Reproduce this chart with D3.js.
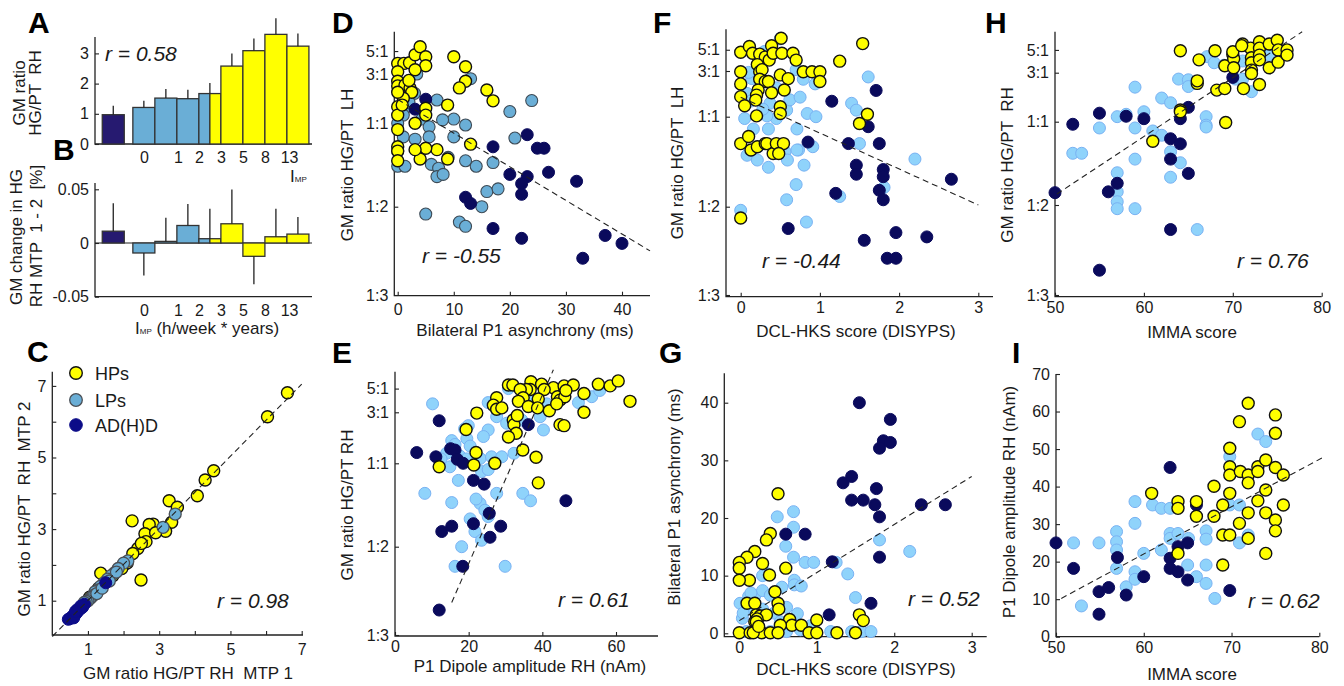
<!DOCTYPE html>
<html><head><meta charset="utf-8">
<script src="https://cdn.jsdelivr.net/npm/d3@7/dist/d3.min.js"></script>
<style>
body{margin:0;background:#fff;}
text{font-family:"Liberation Sans",Arial,Helvetica,sans-serif;fill:#1a1a1a;white-space:pre;}
</style></head><body>
<svg id="fig" width="1344" height="686"></svg>
<script>
// ================= DATA =================
const groupNames = ["HPs", "LPs", "AD(H)D"];

// Panels A & B : bins of I_MP
const binNames = ["AD(H)D", "0", "0-1", "1-2", "2-3", "3-5", "5-8", "8-13", ">13"];
const binPos = [-0.39, 1, 2, 3, 4, 5, 6, 7, 8];
const binGroup = ["AD", "LP", "LP", "LP", "LP/HP", "HP", "HP", "HP", "HP"];
const gmRatioRH = [0.97, 1.21, 1.52, 1.50, 1.67, 2.58, 3.09, 3.63, 3.24];
const gmRatioErr = [0.30, 0.22, 0.30, 0.30, 0.35, 0.42, 0.40, 0.53, 0.42];
const gmChange = [0.011, -0.0093, 0.0015, 0.0163, 0.004, 0.0179, -0.0124, 0.0058, 0.0083];
const gmChangeErr = [0.026, 0.021, 0.022, 0.020, 0.028, 0.032, 0.026, 0.026, 0.016];
const binTickLabels = ["0", "1", "2", "3", "5", "8", "13"];
const binTickPos = [1, 2.55, 3.5, 4.5, 5.5, 6.5, 7.6];

// Ratio axis ticks
const ratioTickVals = [1/3, 1/2, 1, 3, 5];
const ratioTickLabels = ["1:3", "1:2", "1:1", "3:1", "5:1"];

// Panel C : GM ratio RH, MTP1 vs MTP2
const cHP = [[6.6,6.81],[6.04,6.14],[4.53,4.63],[4.29,4.37],[4.07,3.93],[3.28,3.79],[3.51,3.61],[3.35,3.19],[3.18,2.94],[2.24,3.23],[2.83,3.14],[2.72,3.13],[2.6,2.87],[2.63,2.65],[2.4,2.46],[2.26,2.32],[2.49,1.58],[1.36,1.77],[2.0,2.0],[2.5,2.6],[2.1,2.05],[1.95,1.9],[2.9,2.9],[1.7,1.7],[1.3,1.35],[1.2,1.2],[1.05,1.1]];
const cLP = [[3.11,3.05],[3.45,3.42],[2.12,2.11],[2.0,2.05],[1.85,1.9],[1.75,1.78],[1.65,1.7],[1.55,1.6],[1.45,1.5],[1.35,1.4],[1.3,1.3],[1.2,1.25],[1.15,1.15],[1.1,1.1],[1.05,1.05],[1.0,1.0],[0.95,0.98],[1.25,1.2],[1.4,1.35],[1.6,1.55],[1.8,1.8],[0.9,0.95]];
const cAD = [[1.5,1.5],[0.9,0.9],[0.85,0.82],[0.8,0.78],[0.75,0.75],[0.7,0.68],[0.65,0.62],[0.6,0.6],[0.55,0.55],[0.5,0.5],[0.45,0.48],[0.6,0.52],[0.7,0.75],[0.8,0.85],[0.65,0.7]];
const cLine = [[0,0],[7,7.05]];

// Panel D : P1 asynchrony (ms) vs GM ratio LH
const dHP = [[0,3.8],[1.1,3.8],[2.1,3.85],[3.1,4.6],[4,5.5],[5,4.4],[5,3.6],[3.1,3.3],[0,3.15],[0,2.55],[0,2.3],[1.3,2.35],[2.2,2.2],[2.5,2.0],[1,1.75],[0,2.0],[0,1.45],[0,1.2],[0,0.93],[3.1,1.0],[5,1.4],[5,1.2],[8.9,1.5],[10,4.4],[12.1,3.53],[12.1,2.55],[11,2.2],[15.9,2.1],[17,1.65],[13,0.8],[8.9,0.7],[7,0.76],[5,0.77],[4,0.7],[3.1,0.76],[0,0.78],[0,0.75],[0,0.69],[2,2.6],[0.8,1.5]];
const dLP = [[23.9,1.66],[20,1.3],[20.9,0.85],[17,0.68],[15.9,0.55],[17.9,0.56],[15,0.5],[11,0.46],[12.1,0.45],[5,0.48],[13,2.7],[12.1,0.98],[10,0.86],[10,1.1],[8,1.08],[7,1.68],[9,0.71],[6,0.67],[7.3,0.65],[7,0.61],[8.1,0.62],[12.1,0.69],[14,0.66],[1,0.86],[3.1,0.84],[0,0.75],[0,0.66],[1.3,0.66],[3.4,3.0],[3,1.95],[1.9,1.46],[4.3,1.1],[5.6,0.96],[5.6,0.86],[1,1.2],[2,1.6],[0,1.0]];
const dAD = [[5,1.71],[3.1,1.37],[23.1,0.88],[17,0.78],[24.9,0.77],[26.1,0.77],[20,0.62],[23.1,0.61],[22.1,0.58],[26.9,0.63],[31.9,0.59],[22.1,0.54],[12.1,0.53],[13,0.51],[17,0.445],[22.1,0.424],[37,0.43],[40,0.414],[33,0.387]];
const dLine = [[0,1.7],[45,0.40]];

// Panel E : P1 dipole amplitude RH (nAm) vs GM ratio RH
const eHP = [[30.8,5.4],[32,5.4],[36.9,5.8],[39.8,5.5],[43,5.1],[45.9,5.3],[48.4,5.4],[55.2,5.5],[58.4,5.3],[60.6,5.9],[63.8,3.8],[51.3,4.5],[51.3,3.0],[40.5,4.9],[36.7,4.9],[35.7,4.9],[34,4.9],[34.8,4.1],[33.5,3.8],[36.2,3.4],[38.9,4.0],[38.7,3.3],[41.9,3.1],[44.1,4.2],[44.8,3.9],[46.1,4.2],[46.4,4.8],[43.9,3.6],[27.6,4.1],[26.7,3.5],[27.6,3.2],[29,3.3],[22.2,2.95],[32.1,2.54],[32.3,2.3],[33.2,2.8],[32.9,1.91],[30.8,1.76],[44.8,2.3],[45.9,2.25],[19.3,2.07],[22,1.26],[34.7,1.33],[38.3,1.14],[12,0.96],[21.4,0.98],[27.1,1.0],[38.9,0.81]];
const eLP = [[10.2,3.6],[8.1,0.735],[15.4,0.68],[15.4,1.63],[16.3,1.5],[18.9,2.1],[19.5,1.7],[19.9,2.25],[17.6,1.17],[20.4,1.45],[14.9,0.96],[17.2,0.83],[23.1,1.11],[23.5,0.91],[25.3,2.05],[25.3,3.7],[27.6,2.73],[26.2,1.15],[25.3,0.93],[29,1.15],[27.6,0.735],[23.1,0.675],[24.4,0.64],[25.3,0.61],[20.4,0.6],[21.7,0.55],[23.5,0.52],[18.1,0.5],[16.3,0.45],[29.9,0.45],[34.7,0.735],[36.8,0.69],[32.3,1.24],[30.3,2.37],[34.4,2.54],[40.3,2.05],[30.8,5.0],[35.7,4.1],[49.8,3.7],[53.4,4.2],[55.6,4.8],[41.2,3.6],[39.4,2.73],[24,1.78],[14,1.24],[19.5,1.1],[12.5,1.1],[22,0.7]];
const eAD = [[12,2.5],[5.9,1.26],[11.1,1.15],[15.1,1.37],[16.3,1.33],[16.9,1.09],[18.5,1.0],[21.3,0.83],[24.2,0.8],[25.6,0.625],[21.3,0.58],[12.7,0.55],[15.4,0.57],[25.8,0.53],[28.7,0.57],[36.2,2.3],[46.4,0.69],[18.4,0.45],[12,0.368]];
const eLine = [[15.4,0.38],[43,7.5]];

// Panel F : DCL-HKS score vs GM ratio LH
const fHP = [[0,4.7],[0.11,5.4],[0.15,4.6],[0.24,4.5],[0.31,4.2],[0.36,3.9],[0.39,5.5],[0.41,4.6],[0.51,6.6],[0.52,4.6],[0.66,4.6],[0.7,3.9],[0.21,3.5],[0,2.95],[0.24,2.95],[0.27,3.1],[0.24,2.46],[0.31,2.33],[0.35,2.33],[0.5,2.73],[0.6,2.5],[0,2.2],[0.22,1.9],[0.2,1.68],[0.19,1.49],[0.39,1.78],[0.55,1.9],[0,1.62],[0.05,1.3],[0.2,1.02],[0.5,1.27],[0.5,1.08],[0.79,2.95],[0.9,2.95],[1,2.95],[1,2.33],[1.25,3.8],[1.54,5.8],[1.6,1.06],[1.5,0.93],[0,0.77],[0.1,0.82],[0.13,0.73],[0.21,0.75],[0.31,0.77],[0.33,0.77],[0.41,0.71],[0.45,0.77],[0.54,0.77],[0.48,0.71],[0,0.47]];
const fLP = [[0,0.49],[0.58,0.52],[0.7,0.57],[0.83,0.46],[0.8,0.65],[0.73,0.73],[0.71,0.88],[0.84,1.08],[0.95,1.0],[0.94,2.2],[0.79,2.46],[0.7,3.1],[0.5,6.5],[0.14,2.5],[0.08,1.75],[0.05,0.98],[0.16,0.88],[0.22,0.75],[0.08,0.7],[0.21,0.675],[0.35,0.64],[0.35,0.88],[0.45,0.98],[0.56,0.72],[0.59,0.675],[0.71,0.73],[0.91,0.75],[1.4,1.38],[1.46,1.17],[1.5,0.77],[1.61,2.6],[1.81,0.56],[2.2,0.68],[1.25,0.53],[0.33,1.02],[0.58,1.17],[0.37,1.38],[0.12,1.45],[0.28,1.2],[0.62,1.5],[0.45,2.0],[0.3,4.8],[0.1,2.9],[0.75,1.6]];
const fAD = [[1.15,1.45],[1.71,1.88],[1.61,0.9],[0.85,0.78],[1.36,0.77],[1.75,0.77],[1.46,0.65],[1.46,0.61],[1.8,0.63],[1.8,0.6],[1.75,0.55],[1.8,0.52],[1.2,0.54],[2.66,0.59],[0.6,0.445],[1.96,0.436],[1.56,0.42],[2.35,0.427],[1.85,0.387],[1.96,0.387]];
const fLine = [[0,1.6],[3,0.505]];

// Panel G : DCL-HKS score vs bilateral P1 asynchrony (ms)
const gHP = [[0.5,24.2],[0.4,17.3],[0.35,16.2],[0.2,14.2],[0.1,13.2],[0,12.3],[0,11.3],[0.3,12.1],[0.39,10.1],[0.6,11.3],[0.13,9.2],[0,9.2],[0.46,7.2],[0.1,5.2],[0.2,5.2],[0.5,5.2],[0.51,4.2],[0.22,3.2],[0.2,2.0],[0.27,3.0],[0.35,3.2],[0.23,2.5],[0.65,2.4],[0.68,1.4],[0.8,1.4],[1,2.3],[0.53,1.4],[1.55,3.2],[1.6,2.2],[0,0.1],[0.14,0.1],[0.29,0.1],[0.4,0.1],[0.5,0.1],[0.9,0.1],[1,0.1],[1.26,0.1],[1.5,0.1],[0.18,0.1],[0.22,2.0],[0.25,1.2]];
const gLP = [[0.49,20.2],[0.7,21.1],[0.7,18.4],[0.6,15.1],[0.7,13.2],[0.85,12.3],[0.96,12.3],[1.25,12.3],[1.4,10.3],[0.71,9.2],[0.71,8.4],[0.8,8.2],[1.81,16.2],[2.2,14.2],[1.5,6.2],[0.35,10.4],[0.01,5.2],[0.12,6.4],[0.2,6.5],[0.3,7.4],[0.4,6.6],[0.16,4.2],[0.3,4.2],[0.45,3.5],[0.61,4.5],[0.75,3.4],[0.04,2.6],[0.23,2.0],[0.53,2.0],[0.09,0.3],[0.23,0.3],[0.4,0.3],[0.61,0.3],[0.79,0.6],[0.92,1.3],[1.18,0.3],[1.45,0.3],[1.58,0.3],[1.7,0.3],[0.3,10.0],[0.15,7.0],[0.55,8.0],[0.05,3.5]];
const gAD = [[1.55,40],[1.95,37.1],[1.86,33.4],[1.81,32.1],[1.95,33.1],[1.34,26.1],[1.45,27.2],[1.45,23.1],[1.6,23.1],[1.77,25.1],[1.75,22.3],[1.81,20.2],[2.35,22.3],[2.66,22.3],[0.6,17.2],[0.85,17.2],[1.2,12.4],[1.81,13.2],[1.7,5.2],[1.16,3.2]];
const gLine = [[0,2.2],[3,27.2]];

// Panel H : IMMA score vs GM ratio RH
const hHP = [[64.1,4.9],[66.2,4.0],[68,4.9],[66,2.36],[68.2,2.03],[69.1,2.1],[69.1,3.5],[70,4.5],[70.1,4.1],[70.1,3.35],[71.1,5.7],[71.2,2.1],[72,5.2],[72.1,4.2],[72.1,3.75],[72.1,3.18],[72.1,2.95],[73,6.0],[73,5.2],[73,4.45],[73,4.0],[73,2.3],[74.1,5.7],[74.1,3.35],[75,6.2],[75.1,5.0],[75.1,3.8],[76.1,5.0],[76.1,4.45],[64.1,1.3],[64.1,1.25],[69.2,0.99],[61,0.81],[70,4.8],[71,5.5],[66,2.5]];
const hLP = [[59,2.17],[60,1.25],[58,1.18],[57,1.12],[55,0.93],[59,0.93],[61,0.9],[62,1.7],[63,1.53],[62,0.86],[63.9,2.6],[65,2.56],[65,2.2],[67,1.12],[67,0.96],[67,0.94],[67.1,4.3],[67.9,3.75],[69,3.55],[70.3,2.6],[71.1,3.9],[71.1,2.6],[72.1,1.96],[74.1,4.45],[52,0.725],[53,0.725],[57,0.62],[57,0.543],[57,0.51],[57,0.49],[59,0.69],[59,0.49],[63,0.735],[63,0.6],[64.1,0.67],[66,0.44]];
const hAD = [[52,0.97],[55,1.21],[50,0.54],[56,0.543],[57,0.575],[58,1.13],[60,1.07],[63,0.83],[64.1,0.79],[63,0.69],[65,0.617],[64.1,1.07],[65,1.38],[70,2.7],[63,0.44],[55,0.367]];
const hLine = [[50.2,0.535],[77.8,7.5]];

// Panel I : IMMA score vs P1 dipole amplitude RH (nAm)
const iHP = [[71.9,62.2],[70.9,57.3],[75,59.1],[75,54.2],[69.8,50.2],[69.8,45.3],[69.8,43.1],[71,44],[71.9,43.1],[71.9,41],[73,45.3],[73,44],[73.9,47.1],[75,45.1],[75.9,43.1],[60.9,38.2],[63.9,36],[63.9,34.2],[66,36],[66,32.1],[68,40.1],[68,32.1],[69,35.1],[69.8,38.2],[73,36.2],[71.9,33],[70.9,30.2],[73.9,39.1],[73.9,33],[75,31.1],[75,28.2],[75.9,35.1],[69,27.1],[69.8,27.1],[71.9,26.2],[63.9,22.2],[69,19.1],[73.9,22.2]];
const iLP = [[52,25],[54.9,25],[52.9,8.2],[56.9,28],[56.9,25.3],[56.9,23.1],[56.9,18.2],[58,13.3],[59,36],[59,30.2],[59,17.3],[59,15.3],[60,22.2],[61,35.1],[62,34.2],[62,23.1],[63,34.2],[63,27.5],[63,26.2],[63.9,27.5],[65.1,26.2],[65,19.1],[66,16],[67.1,28.2],[67.1,26],[67.1,19.1],[67.1,14.2],[68.1,10.2],[69.8,48],[69.8,35.1],[70.9,35.1],[70.9,25],[71.9,27.1],[73,54],[73.9,52]];
const iAD = [[50,25],[52,18.2],[54.9,12],[54.9,6],[56,13.1],[57,21.1],[58,11.1],[60,16],[63,45.1],[63,20.9],[63,18.2],[63.9,24],[63.9,17.3],[65,25],[65,15.1],[66,35.1],[69.8,12.3]];
const iLine = [[50.6,10.2],[80.6,48]];

// correlation coefficients
const rA = "r = 0.58", rC = "r = 0.98", rD = "r = -0.55", rE = "r = 0.61",
      rF = "r = -0.44", rG = "r = 0.52", rH = "r = 0.76", rI = "r = 0.62";

// ================= DRAWING =================
const svg = d3.select("#fig");
const COL = {HP: "#ffff00", LP: "#6aaed6", LP2: "#8fd3fb", AD: "#0a0a5c", ADC: "#0c0c88", ADbar: "#261a70"};
const styleHP = {fill: COL.HP, stroke: "#111", sw: 1.4};
const styleLPdark = {fill: COL.LP, stroke: "#3d4a55", sw: 1.1};
const styleLPlight = {fill: COL.LP2, stroke: "#79b2f3", sw: 1};
const styleAD = {fill: COL.AD, stroke: COL.AD, sw: 1};

function ratioT(r) { return r >= 1 ? Math.log(r) / Math.log(3) : 1 - 1 / r; }
function ratioScale(px) { // pixel positions of 1:3, 1:2, 1:1, 3:1
  return d3.scaleLinear().domain([-2, -1, 0, 1]).range(px);
}

function txt(x, y, s, o = {}) {
  const t = svg.append("text").attr("x", x).attr("y", y).text(s).attr("font-size", o.size || 17);
  if (o.anchor) t.attr("text-anchor", o.anchor);
  if (o.weight) t.attr("font-weight", o.weight);
  if (o.italic) t.attr("font-style", "italic");
  return t;
}
function vtxt(x, y, s, size = 17) {
  return svg.append("text").attr("transform", `translate(${x},${y}) rotate(-90)`)
    .attr("text-anchor", "middle").attr("font-size", size).text(s);
}
function styleAxis(g) {
  g.attr("font-size", 16).attr("color", "#222");
  g.select(".domain").remove();
  g.selectAll(".tick line").attr("stroke-width", 1.1);
}
function axisLines(b) {
  svg.append("path").attr("d", `M${b.l},${b.t}V${b.b}H${b.r}`)
    .attr("fill", "none").attr("stroke", "#222").attr("stroke-width", 1.3);
}
function dots(data, x, y, yv, st, r = 6) {
  svg.append("g").selectAll("circle").data(data).join("circle")
    .attr("cx", d => x(d[0])).attr("cy", d => y(yv(d[1]))).attr("r", r)
    .attr("fill", st.fill).attr("stroke", st.stroke).attr("stroke-width", st.sw);
}

function scatterPanel(p) {
  axisLines(p.box);
  const gx = svg.append("g").attr("transform", `translate(0,${p.box.b})`)
    .call(d3.axisBottom(p.x).tickValues(p.xTicks).tickFormat(p.xFmt || (d => d))
      .tickSize(-4).tickSizeOuter(0).tickPadding(p.xPad || 6));
  styleAxis(gx);
  const gy = svg.append("g").attr("transform", `translate(${p.box.l},0)`)
    .call(d3.axisLeft(p.y).tickValues(p.yTicks).tickFormat(p.yFmt || (d => d))
      .tickSize(-4).tickSizeOuter(0).tickPadding(p.yPad || 6));
  styleAxis(gy);
  const yv = p.yT || (d => d);
  p.series.forEach(s => dots(s.data, p.x, p.y, yv, s.style));
  if (p.line) {
    svg.append("line")
      .attr("x1", p.x(p.line[0][0])).attr("y1", p.y(yv(p.line[0][1])))
      .attr("x2", p.x(p.line[1][0])).attr("y2", p.y(yv(p.line[1][1])))
      .attr("stroke", "#222").attr("stroke-width", 1.1).attr("stroke-dasharray", "6,4");
  }
  txt(p.rPos[0], p.rPos[1], p.r, {size: 21, italic: true});
}

// ---------- Panel A ----------
const xAB = d3.scaleLinear().domain([-1.22, 8.64]).range([95, 312]);
const yA = d3.scaleLinear().domain([0, 3]).range([144, 53.4]);
axisLines({l: 95, t: 37, b: 144, r: 312});
const gyA = svg.append("g").attr("transform", "translate(95,0)")
  .call(d3.axisLeft(yA).tickValues([0, 1, 2, 3]).tickFormat(d3.format("d"))
    .tickSize(-4).tickSizeOuter(0).tickPadding(6));
styleAxis(gyA);
function barFill(grp) { return grp === "AD" ? COL.ADbar : grp === "LP" ? COL.LP : COL.HP; }
function drawBars(yS, vals, errs) {
  binPos.forEach((c, i) => {
    const v = vals[i], y0 = yS(0), y1 = yS(v);
    const top = Math.min(y0, y1), h = Math.abs(y0 - y1);
    const parts = binGroup[i] === "LP/HP"
      ? [[c - 0.5, c, "LP"], [c, c + 0.5, "HP"]]
      : [[c - 0.5, c + 0.5, binGroup[i]]];
    parts.forEach(pt => {
      svg.append("rect").attr("x", xAB(pt[0])).attr("y", top)
        .attr("width", xAB(pt[1]) - xAB(pt[0])).attr("height", Math.max(h, 0.8))
        .attr("fill", barFill(pt[2])).attr("stroke", "#333").attr("stroke-width", 1.3);
    });
    const sgn = v >= 0 ? 1 : -1;
    svg.append("line").attr("x1", xAB(c)).attr("x2", xAB(c))
      .attr("y1", y1).attr("y2", yS(v + sgn * errs[i]))
      .attr("stroke", "#222").attr("stroke-width", 1.3);
  });
}
drawBars(yA, gmRatioRH, gmRatioErr);
const gxA = svg.append("g").attr("transform", "translate(0,144)")
  .call(d3.axisBottom(xAB).tickValues(binTickPos).tickFormat((d, i) => binTickLabels[i])
    .tickSize(0).tickPadding(8));
styleAxis(gxA);
txt(105, 61, rA, {size: 21, italic: true});
const imp = txt(290, 181.5, "I", {size: 17});
imp.append("tspan").attr("font-size", 8).text("MP");
vtxt(25, 93, "GM ratio");
vtxt(41, 93, "HG/PT  RH");

// ---------- Panel B ----------
const yB = d3.scaleLinear().domain([-0.05, 0.05]).range([296.7, 189.3]);
axisLines({l: 95, t: 183, b: 296.7, r: 312});
svg.append("line").attr("x1", 95).attr("x2", 312).attr("y1", yB(0)).attr("y2", yB(0))
  .attr("stroke", "#222").attr("stroke-width", 1.1);
const gyB = svg.append("g").attr("transform", "translate(95,0)")
  .call(d3.axisLeft(yB).tickValues([-0.05, 0, 0.05])
    .tickFormat(d => d === 0 ? "0" : (d < 0 ? "-" : "") + Math.abs(d).toFixed(2))
    .tickSize(-4).tickSizeOuter(0).tickPadding(6));
styleAxis(gyB);
drawBars(yB, gmChange, gmChangeErr);
const gxB = svg.append("g").attr("transform", "translate(0,296.7)")
  .call(d3.axisBottom(xAB).tickValues(binTickPos).tickFormat((d, i) => binTickLabels[i])
    .tickSize(0).tickPadding(8));
styleAxis(gxB);
const xlB = txt(135, 334, "I", {size: 17});
xlB.append("tspan").attr("font-size", 8).text("MP");
xlB.append("tspan").text(" (h/week * years)");
vtxt(22, 237, "GM change in HG");
vtxt(42, 236, "RH MTP  1 - 2  [%]");

// ---------- Panel C ----------
const xC = d3.scaleLinear().domain([0, 7]).range([52.3, 301.7]);
const yC = d3.scaleLinear().domain([0, 7]).range([636.5, 385.9]);
scatterPanel({
  box: {l: 52.3, r: 303, t: 371.7, b: 635},
  x: xC, y: yC, xTicks: [1, 2, 3, 4, 5, 6, 7], yTicks: [1, 2, 3, 4, 5, 6, 7],
  xFmt: d => d % 2 ? d : "", yFmt: d => d % 2 ? d : "", xPad: 9,
  series: [{data: cHP, style: styleHP}, {data: cLP, style: {fill: COL.LP, stroke: "#4a4f55", sw: 1.3}},
           {data: cAD, style: {fill: COL.ADC, stroke: COL.ADC, sw: 1}}],
  line: cLine, r: rC, rPos: [217, 608]
});
[[styleHP, groupNames[0]], [{fill: COL.LP, stroke: "#4a4f55", sw: 1.3}, groupNames[1]],
 [{fill: COL.ADC, stroke: COL.ADC, sw: 1}, groupNames[2]]].forEach((g, i) => {
  const cy = [373, 400, 425][i];
  svg.append("circle").attr("cx", 76).attr("cy", cy).attr("r", 6.3)
    .attr("fill", g[0].fill).attr("stroke", g[0].stroke).attr("stroke-width", g[0].sw);
  txt(95, cy + 6.5, g[1], {size: 18});
});
txt(188, 679, "GM ratio HG/PT RH  MTP 1", {anchor: "middle"});
vtxt(30, 509, "GM ratio HG/PT  RH  MTP 2");

// ---------- Panel D ----------
const ratioTicksT = ratioTickVals.map(ratioT);
const ratioFmt = (d, i) => ratioTickLabels[i];
scatterPanel({
  box: {l: 394.3, r: 650, t: 31.7, b: 295.7},
  x: d3.scaleLinear().domain([0, 40]).range([397.7, 622]),
  y: ratioScale([295, 206.7, 123.3, 74]), yT: ratioT,
  xTicks: [0, 10, 20, 30, 40], yTicks: ratioTicksT, yFmt: ratioFmt, xPad: 8,
  series: [{data: dLP, style: styleLPdark}, {data: dAD, style: styleAD}, {data: dHP, style: styleHP}],
  line: dLine, r: rD, rPos: [422, 263]
});
txt(525, 336, "Bilateral P1 asynchrony (ms)", {anchor: "middle"});
vtxt(353, 165, "GM ratio HG/PT  LH");

// ---------- Panel E ----------
scatterPanel({
  box: {l: 395, r: 658, t: 371.7, b: 636},
  x: d3.scaleLinear().domain([0, 60]).range([395, 616]),
  y: ratioScale([635, 546.7, 463.3, 412.3]), yT: ratioT,
  xTicks: [0, 20, 40, 60], yTicks: ratioTicksT, yFmt: ratioFmt, xPad: 5,
  series: [{data: eLP, style: styleLPlight}, {data: eAD, style: styleAD}, {data: eHP, style: styleHP}],
  line: eLine, r: rE, rPos: [558, 607]
});
txt(530, 672, "P1 Dipole amplitude RH (nAm)", {anchor: "middle"});
vtxt(353, 505, "GM ratio HG/PT RH");

// ---------- Panel F ----------
scatterPanel({
  box: {l: 726, r: 993, t: 29.3, b: 296.7},
  x: d3.scaleLinear().domain([0, 3]).range([740.7, 978.3]),
  y: ratioScale([295, 206.7, 116.7, 71]), yT: ratioT,
  xTicks: [0, 1, 2, 3], yTicks: ratioTicksT, yFmt: ratioFmt, xPad: 5,
  series: [{data: fLP, style: styleLPlight}, {data: fAD, style: styleAD}, {data: fHP, style: styleHP}],
  line: fLine, r: rF, rPos: [762, 268]
});
txt(856, 337, "DCL-HKS score (DISYPS)", {anchor: "middle"});
vtxt(683, 163, "GM ratio HG/PT  LH");

// ---------- Panel G ----------
scatterPanel({
  box: {l: 724.3, r: 986.7, t: 373.3, b: 636.7},
  x: d3.scaleLinear().domain([0, 3]).range([739.3, 971.7]),
  y: d3.scaleLinear().domain([0, 40]).range([633.3, 402.7]),
  xTicks: [0, 1, 2, 3], yTicks: [0, 10, 20, 30, 40], xPad: 5,
  series: [{data: gLP, style: styleLPlight}, {data: gAD, style: styleAD}, {data: gHP, style: styleHP}],
  line: gLine, r: rG, rPos: [908, 606]
});
txt(856, 675, "DCL-HKS score (DISYPS)", {anchor: "middle"});
vtxt(680, 497, "Bilateral P1 asynchrony (ms)");

// ---------- Panel H ----------
scatterPanel({
  box: {l: 1055, r: 1321.7, t: 31.7, b: 296.7},
  x: d3.scaleLinear().domain([50, 80]).range([1055, 1321.7]),
  y: ratioScale([295, 205, 121.7, 72.7]), yT: ratioT,
  xTicks: [50, 60, 70, 80], yTicks: ratioTicksT, yFmt: ratioFmt, xPad: 5,
  series: [{data: hLP, style: styleLPlight}, {data: hAD, style: styleAD}, {data: hHP, style: styleHP}],
  line: hLine, r: rH, rPos: [1237, 268]
});
txt(1192, 338, "IMMA score", {anchor: "middle"});
vtxt(1013, 165, "GM ratio HG/PT  RH");

// ---------- Panel I ----------
scatterPanel({
  box: {l: 1056, r: 1319.3, t: 374, b: 636.7},
  x: d3.scaleLinear().domain([50, 80]).range([1056, 1319.3]),
  y: d3.scaleLinear().domain([0, 70]).range([636.7, 374]),
  xTicks: [50, 60, 70, 80], yTicks: [0, 10, 20, 30, 40, 50, 60, 70], xPad: 5,
  series: [{data: iLP, style: styleLPlight}, {data: iAD, style: styleAD}, {data: iHP, style: styleHP}],
  line: iLine, r: rI, rPos: [1248, 608]
});
txt(1192, 680, "IMMA score", {anchor: "middle"});
vtxt(1015, 502, "P1 Dipole amplitude RH (nAm)");

// ---------- Panel letters ----------
[["A", 28, 33], ["B", 53, 160], ["C", 27, 362], ["D", 332, 33], ["E", 332, 363],
 ["F", 653, 33], ["G", 659, 363], ["H", 985, 33], ["I", 1012, 363]].forEach(l =>
  txt(l[1], l[2], l[0], {size: 30, weight: "bold"}).style("fill", "#000"));
</script>
</body></html>
